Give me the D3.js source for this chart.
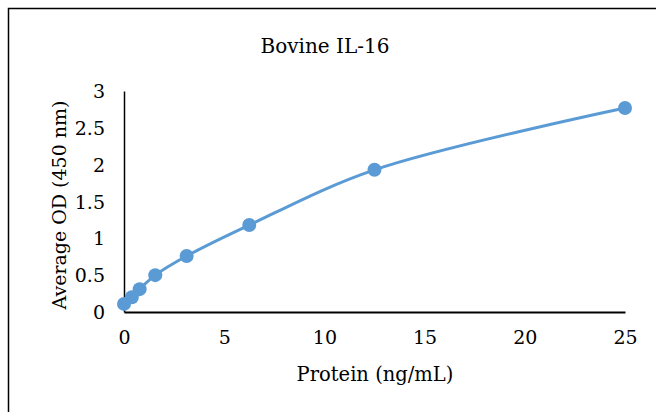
<!DOCTYPE html>
<html>
<head>
<meta charset="utf-8">
<script src="https://d3js.org/d3.v7.min.js"></script>
<style>
body { margin: 0; background: #fff; }
text { font-family: "DejaVu Serif", "Liberation Serif", serif; fill: #000; }
</style>
</head>
<body>
<div id="chart"></div>
<script>
var conc = [0, 0.39, 0.78, 1.56, 3.125, 6.25, 12.5, 25],
    od = [0.11, 0.2, 0.31, 0.5, 0.76, 1.18, 1.93, 2.77],
    xTicks = [0, 5, 10, 15, 20, 25],
    yTicks = [0, 0.5, 1, 1.5, 2, 2.5, 3];

var w = 656, h = 412,
    color = '#5B9BD5';

var svg = d3.select('#chart').append('svg')
    .attr('width', w).attr('height', h);

// frame (only top and left edges show)
svg.append('path')
    .attr('d', 'M8.5,' + h + 'V8.5H' + w)
    .attr('fill', 'none').attr('stroke', '#000').attr('stroke-width', 1.5);

var x = d3.scaleLinear().domain([0, 25]).range([124, 625]),
    y = d3.scaleLinear().domain([0, 3]).range([312, 91]);

svg.append('text')
    .attr('x', 325).attr('y', 53)
    .attr('text-anchor', 'middle')
    .style('font-size', '20px')
    .text('Bovine IL-16');

// y axis
var yAxis = svg.append('g')
    .attr('transform', 'translate(124,0)')
    .call(d3.axisLeft(y).tickValues(yTicks).tickSize(0).tickPadding(19).tickFormat(d3.format('')));
yAxis.select('.domain').attr('stroke', '#000').attr('stroke-width', 1.5);
yAxis.selectAll('text').style('font-size', '19px').attr('dy', '0.35em');

// x axis
var xAxis = svg.append('g')
    .attr('transform', 'translate(0,312)')
    .call(d3.axisBottom(x).tickValues(xTicks).tickSize(0).tickPadding(19));
xAxis.select('.domain').attr('stroke', '#000').attr('stroke-width', 2);
xAxis.selectAll('text').style('font-size', '19px');

svg.append('text')
    .attr('x', 375).attr('y', 381)
    .attr('text-anchor', 'middle')
    .style('font-size', '19.5px')
    .text('Protein (ng/mL)');

svg.append('text')
    .attr('transform', 'translate(66,205) rotate(-90)')
    .attr('text-anchor', 'middle')
    .style('font-size', '19px')
    .text('Average OD (450 nm)');

var pts = conc.map(function(c, i) { return [c, od[i]]; });

var line = d3.line()
    .x(function(d) { return x(d[0]); })
    .y(function(d) { return y(d[1]); })
    .curve(d3.curveCatmullRom.alpha(0.5));

svg.append('path')
    .datum(pts)
    .attr('d', line)
    .attr('fill', 'none')
    .attr('stroke', color)
    .attr('stroke-width', 3);

svg.selectAll('circle').data(pts)
  .enter().append('circle')
    .attr('cx', function(d) { return x(d[0]); })
    .attr('cy', function(d) { return y(d[1]); })
    .attr('r', 7)
    .attr('fill', color);
</script>
</body>
</html>
